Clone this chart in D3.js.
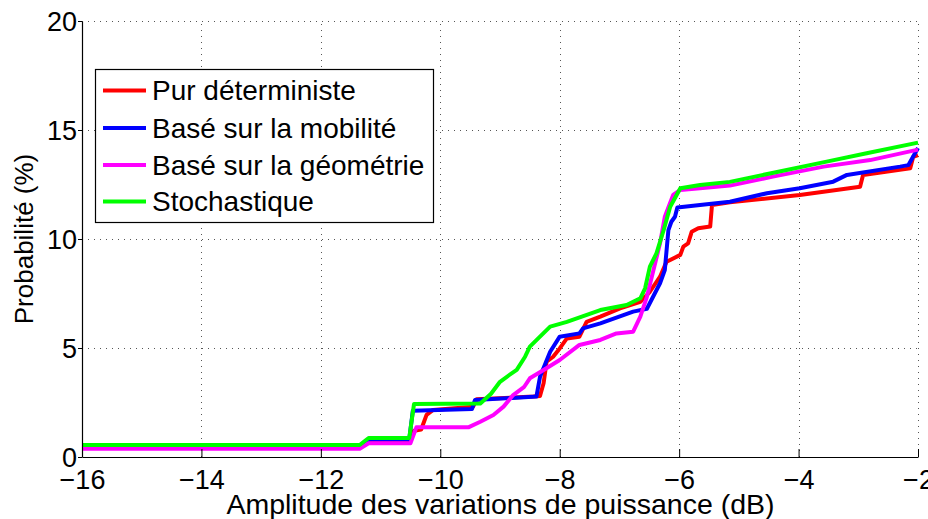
<!DOCTYPE html>
<html>
<head>
<meta charset="utf-8">
<script src="https://cdn.jsdelivr.net/npm/d3@7"></script>
<style>
  html, body { margin: 0; padding: 0; background: #fff; }
  svg { display: block; font-family: "Liberation Sans", Arial, Helvetica, sans-serif; }
</style>
</head>
<body>
<svg id="chart" width="928" height="519"></svg>
<script>
// Cumulative probability curves of power-variation amplitude (dB) for four channel models
const seriesNames = ["Pur déterministe", "Basé sur la mobilité", "Basé sur la géométrie", "Stochastique"];
const seriesColors = ["#ff0000", "#0000ff", "#ff00ff", "#00ff00"];

const purDeterministe = [
  [-16,0.42],[-11.35,0.42],[-11.2,0.72],[-10.52,0.72],[-10.44,1.2],[-10.32,1.26],[-10.23,1.93],
  [-10.12,2.16],[-9.45,2.31],[-9.39,2.65],[-8.44,2.77],[-8.33,2.8],[-8.27,3.38],[-8.22,4.37],
  [-8.11,4.6],[-8.0,4.98],[-7.88,5.44],[-7.67,5.52],[-7.55,6.2],[-7.32,6.44],[-6.99,6.82],
  [-6.65,7.12],[-6.49,7.58],[-6.32,8.27],[-6.21,8.96],[-5.98,9.27],[-5.93,9.65],[-5.85,9.8],
  [-5.79,10.33],[-5.68,10.49],[-5.48,10.57],[-5.45,11.56],[-5.15,11.68],[-3.98,12.02],
  [-2.97,12.4],[-2.92,12.94],[-2.13,13.24],[-2.08,13.77],[-2.0,13.85]
];
const baseMobilite = [
  [-16,0.5],[-11.35,0.5],[-11.2,0.8],[-10.52,0.8],[-10.46,2.12],[-9.47,2.2],[-9.42,2.61],
  [-8.39,2.77],[-8.33,3.68],[-8.16,4.83],[-8.0,5.52],[-7.67,5.67],[-7.61,5.9],[-7.32,6.13],
  [-6.77,6.67],[-6.54,6.8],[-6.32,7.97],[-6.24,8.58],[-6.18,10.41],[-6.13,10.79],[-6.07,11.02],
  [-6.03,11.45],[-5.65,11.56],[-5.15,11.71],[-4.53,12.1],[-3.98,12.33],[-3.42,12.63],
  [-3.19,12.94],[-2.3,13.32],[-2.16,13.39],[-2.05,13.93],[-2.0,14.17]
];
const baseGeometrie = [
  [-16,0.38],[-11.35,0.38],[-11.2,0.63],[-10.5,0.63],[-10.4,1.36],[-9.53,1.36],[-9.33,1.62],
  [-9.11,1.93],[-8.94,2.31],[-8.78,2.84],[-8.6,3.2],[-8.5,3.61],[-8.27,3.99],[-8.0,4.45],
  [-7.67,5.14],[-7.32,5.37],[-7.05,5.67],[-6.77,5.75],[-6.65,6.44],[-6.54,7.35],[-6.43,8.58],
  [-6.32,9.8],[-6.24,11.02],[-6.10,12.02],[-5.98,12.25],[-5.65,12.33],[-5.15,12.45],
  [-4.43,12.86],[-3.58,13.32],[-2.8,13.62],[-2.0,14.1]
];
const stochastique = [
  [-16,0.55],[-11.35,0.55],[-11.2,0.87],[-10.52,0.87],[-10.44,2.43],[-9.33,2.45],[-9.15,2.9],
  [-9.0,3.45],[-8.85,3.75],[-8.72,4.0],[-8.58,4.6],[-8.5,5.06],[-8.36,5.44],[-8.16,5.98],
  [-7.88,6.2],[-7.63,6.44],[-7.32,6.74],[-6.88,6.97],[-6.65,7.28],[-6.57,7.74],[-6.49,8.73],
  [-6.38,9.34],[-6.26,10.4],[-6.15,11.48],[-5.98,12.33],[-5.65,12.48],[-5.15,12.62],
  [-4.42,13.04],[-3.53,13.55],[-2.86,13.93],[-2.0,14.42]
];
const seriesData = [purDeterministe, baseMobilite, baseGeometrie, stochastique];

const xTicks = [-16, -14, -12, -10, -8, -6, -4, -2];
const yTicks = [0, 5, 10, 15, 20];
const xLabel = "Amplitude des variations de puissance (dB)";
const yLabel = "Probabilité (%)";

const svg = d3.select("#chart");
const margin = { left: 82, right: 10, top: 21, bottom: 62 };
const W = 928, H = 519;
const x = d3.scaleLinear().domain([-16, -2]).range([margin.left, W - margin.right]);
const y = d3.scaleLinear().domain([0, 20]).range([H - margin.bottom, margin.top]);

const fmt = d => String(d).replace("-", "\u2212");

// dotted grid
const grid = svg.append("g").attr("stroke", "#555").attr("stroke-width", 1)
  .attr("stroke-dasharray", "1,5");
grid.selectAll("line.gx").data(xTicks.slice(1)).join("line")
  .attr("x1", d => Math.round(x(d)) + 0.5).attr("x2", d => Math.round(x(d)) + 0.5)
  .attr("y1", y(0)).attr("y2", y(20));
grid.selectAll("line.gy").data(yTicks.slice(1)).join("line")
  .attr("x1", x(-16)).attr("x2", x(-2))
  .attr("y1", d => Math.round(y(d)) + 0.5).attr("y2", d => Math.round(y(d)) + 0.5);

// curves
const line = d3.line().x(d => x(d[0])).y(d => y(d[1]));
svg.append("g").selectAll("path").data(seriesData).join("path")
  .attr("d", line)
  .attr("fill", "none")
  .attr("stroke", (d, i) => seriesColors[i])
  .attr("stroke-width", 4)
  .attr("stroke-linejoin", "round");

// axes
const xAxis = d3.axisBottom(x).tickValues(xTicks).tickFormat(fmt).tickSizeInner(-8).tickSizeOuter(0).tickPadding(13);
const yAxis = d3.axisLeft(y).tickValues(yTicks).tickFormat(fmt).tickSizeInner(4).tickSizeOuter(0).tickPadding(1);
const gx = svg.append("g").attr("transform", `translate(0,${y(0)})`).call(xAxis);
const gy = svg.append("g").attr("transform", `translate(${x(-16)},0)`).call(yAxis);
[gx, gy].forEach(g => {
  g.select(".domain").attr("stroke", "#000").attr("stroke-width", 1.2);
  g.selectAll(".tick line").attr("stroke", "#000");
  g.selectAll(".tick text").attr("fill", "#000").attr("font-size", 27)
    .attr("font-family", "Liberation Sans, Arial, sans-serif");
});
gy.selectAll(".tick text").attr("dy", "0.35em");

// axis titles
svg.append("text").attr("x", 500.5).attr("y", 514)
  .attr("text-anchor", "middle").attr("font-size", 28.5).text(xLabel);
svg.append("text").attr("transform", `translate(33,${(y(0) + y(20)) / 2}) rotate(-90)`)
  .attr("text-anchor", "middle").attr("font-size", 26).text(yLabel);

// legend
const lg = svg.append("g");
lg.append("rect").attr("x", 95.5).attr("y", 69.5).attr("width", 338).attr("height", 153)
  .attr("fill", "#fff").attr("stroke", "#000").attr("stroke-width", 1.2);
const rowY = [90.5, 128, 165, 201.5];
seriesNames.forEach((name, i) => {
  lg.append("line").attr("x1", 103).attr("x2", 146).attr("y1", rowY[i]).attr("y2", rowY[i])
    .attr("stroke", seriesColors[i]).attr("stroke-width", 4);
  lg.append("text").attr("x", 152).attr("y", rowY[i]).attr("dy", "0.35em")
    .attr("font-size", 28).text(name);
});
</script>
</body>
</html>
